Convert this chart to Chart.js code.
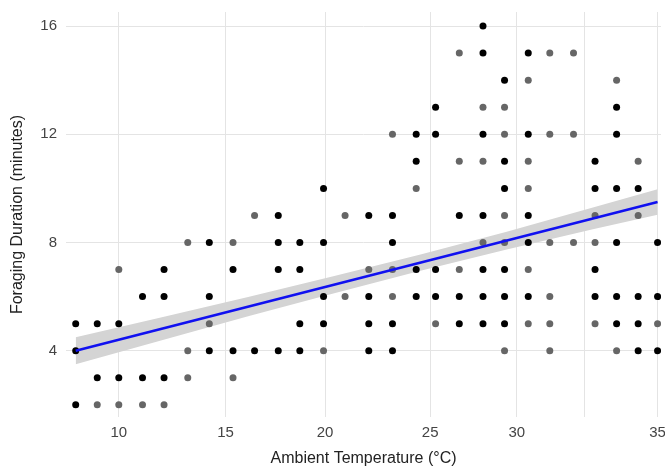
<!DOCTYPE html>
<html><head><meta charset="utf-8">
<script src="https://cdn.jsdelivr.net/npm/chart.js@4/dist/chart.umd.min.js"></script>
<style>html,body{margin:0;padding:0;background:#fff;overflow:hidden;}#wrap{width:665px;height:466px;position:relative;}</style>
</head><body><div id="wrap"><canvas id="c"></canvas></div>
<script>
// Ambient temperature of each observation column (°C)
const temps = [8.0, 9.0, 10.0, 11.1, 12.1, 13.2, 14.2, 15.3, 16.3, 17.4, 18.4, 19.5, 20.5, 21.6, 22.7, 23.8, 24.7, 25.8, 26.9, 27.9, 29.0, 30.0, 31.1, 32.1, 33.1, 34.1, 35.0];
// Foraging durations (minutes) drawn as black points, per temperature column
const blackDurations = [
  [5,4,2],[5,3],[5,3],[6,3],[7,6,3],[],[8,6,4],[7,4],[4],[9,8,7,4],
  [8,7,5,4],[10,8,6,5],[],[9,6,5,4],[9,8,5,4],[12,11,7,6],[13,12,7,6],[9,6,5],
  [16,15,12,9,7,6,5],[14,11,10,7,6,5],[15,12,9,8,6],[],[],[11,10,7,6],
  [13,12,10,8,6,5],[10,6,5,4],[8,6,4]
];
// Foraging durations (minutes) drawn as grey points, per temperature column
const grayDurations = [
  [],[2],[7,2],[2],[2],[8,4,3],[5],[8,3],[9],[],
  [],[4],[9,6],[7],[12,7,6],[10],[5],[15,11,7],
  [13,11,8],[13,12,9,8,4],[14,11,10,7,5],[15,12,8,6,5,4],[15,12,8],[9,8,5],
  [14,4],[11,9],[5]
];
// Linear fit and its confidence band
const fitTemps = [8, 35];
const fitDurations = [4.0, 9.5];
const bandTemps = [8, 12, 16, 20, 24, 28, 32, 35];
const bandLower = [3.50, 4.39, 5.27, 6.12, 6.96, 7.74, 8.49, 9.03];
const bandUpper = [4.50, 5.24, 5.99, 6.76, 7.56, 8.40, 9.29, 9.97];
// Axis ticks
const xTickValues = [10, 14.95, 19.57, 24.45, 28.47, 31.59, 35];
const xTickLabels = ['10', '15', '20', '25', '30', '', '35'];
const yTickValues = [4, 8, 12, 16];

function toPoints(groups) {
  const pts = [];
  groups.forEach((g, i) => g.forEach(v => pts.push({x: temps[i], y: v})));
  return pts;
}
const zip = (xs, ys) => xs.map((x, i) => ({x: x, y: ys[i]}));

const FONT = 'Liberation Sans, Arial, Helvetica, sans-serif';

new Chart(document.getElementById('c'), {
  type: 'scatter',
  data: {
    datasets: [
      { type: 'line', label: 'fit', data: zip(fitTemps, fitDurations), borderColor: '#1010f0', borderWidth: 2.5, pointRadius: 0, fill: false, order: 0 },
      { label: 'black', data: toPoints(blackDurations), backgroundColor: '#000', borderColor: '#000', borderWidth: 0, pointRadius: 3.5, order: 1 },
      { label: 'gray', data: toPoints(grayDurations), backgroundColor: '#666', borderColor: '#666', borderWidth: 0, pointRadius: 3.5, order: 2 },
      { type: 'line', label: 'lower', data: zip(bandTemps, bandLower), borderWidth: 0, borderColor: 'rgba(0,0,0,0)', pointRadius: 0, fill: false, order: 3 },
      { type: 'line', label: 'upper', data: zip(bandTemps, bandUpper), borderWidth: 0, borderColor: 'rgba(0,0,0,0)', pointRadius: 0, fill: '-1', backgroundColor: '#d4d4d4', order: 4 }
    ]
  },
  options: {
    responsive: true,
    maintainAspectRatio: false,
    animation: false,
    layout: { padding: { top: 12, right: 0, left: 0, bottom: 0 } },
    plugins: { legend: { display: false }, tooltip: { enabled: false } },
    scales: {
      x: {
        type: 'linear', min: 7.55, max: 35.16,
        afterFit(s) { s.height = 49; s.paddingLeft = 0; s.paddingRight = 0; },
        afterBuildTicks(s) { s.ticks = xTickValues.map(v => ({value: v})); },
        grid: { color: '#e4e4e4', lineWidth: 1, drawTicks: false },
        border: { display: false },
        ticks: { autoSkip: false, maxRotation: 0, color: '#444', padding: 7, font: { family: FONT, size: 15 },
                 callback: (v, i) => xTickLabels[i] },
        title: { display: true, text: 'Ambient Temperature (°C)', color: '#222', font: { family: FONT, size: 16 }, padding: { top: 0, bottom: -2 } }
      },
      y: {
        type: 'linear', min: 1.55, max: 16.52,
        afterFit(s) { s.width = 66; s.paddingTop = 0; s.paddingBottom = 0; },
        afterBuildTicks(s) { s.ticks = yTickValues.map(v => ({value: v})); },
        grid: { color: '#e4e4e4', lineWidth: 1, drawTicks: false },
        border: { display: false },
        ticks: { color: '#444', padding: 9, font: { family: FONT, size: 15 } },
        title: { display: true, text: 'Foraging Duration (minutes)', color: '#222', font: { family: FONT, size: 16 }, padding: { top: 8, bottom: 0 } }
      }
    }
  }
});
</script>
</body></html>
